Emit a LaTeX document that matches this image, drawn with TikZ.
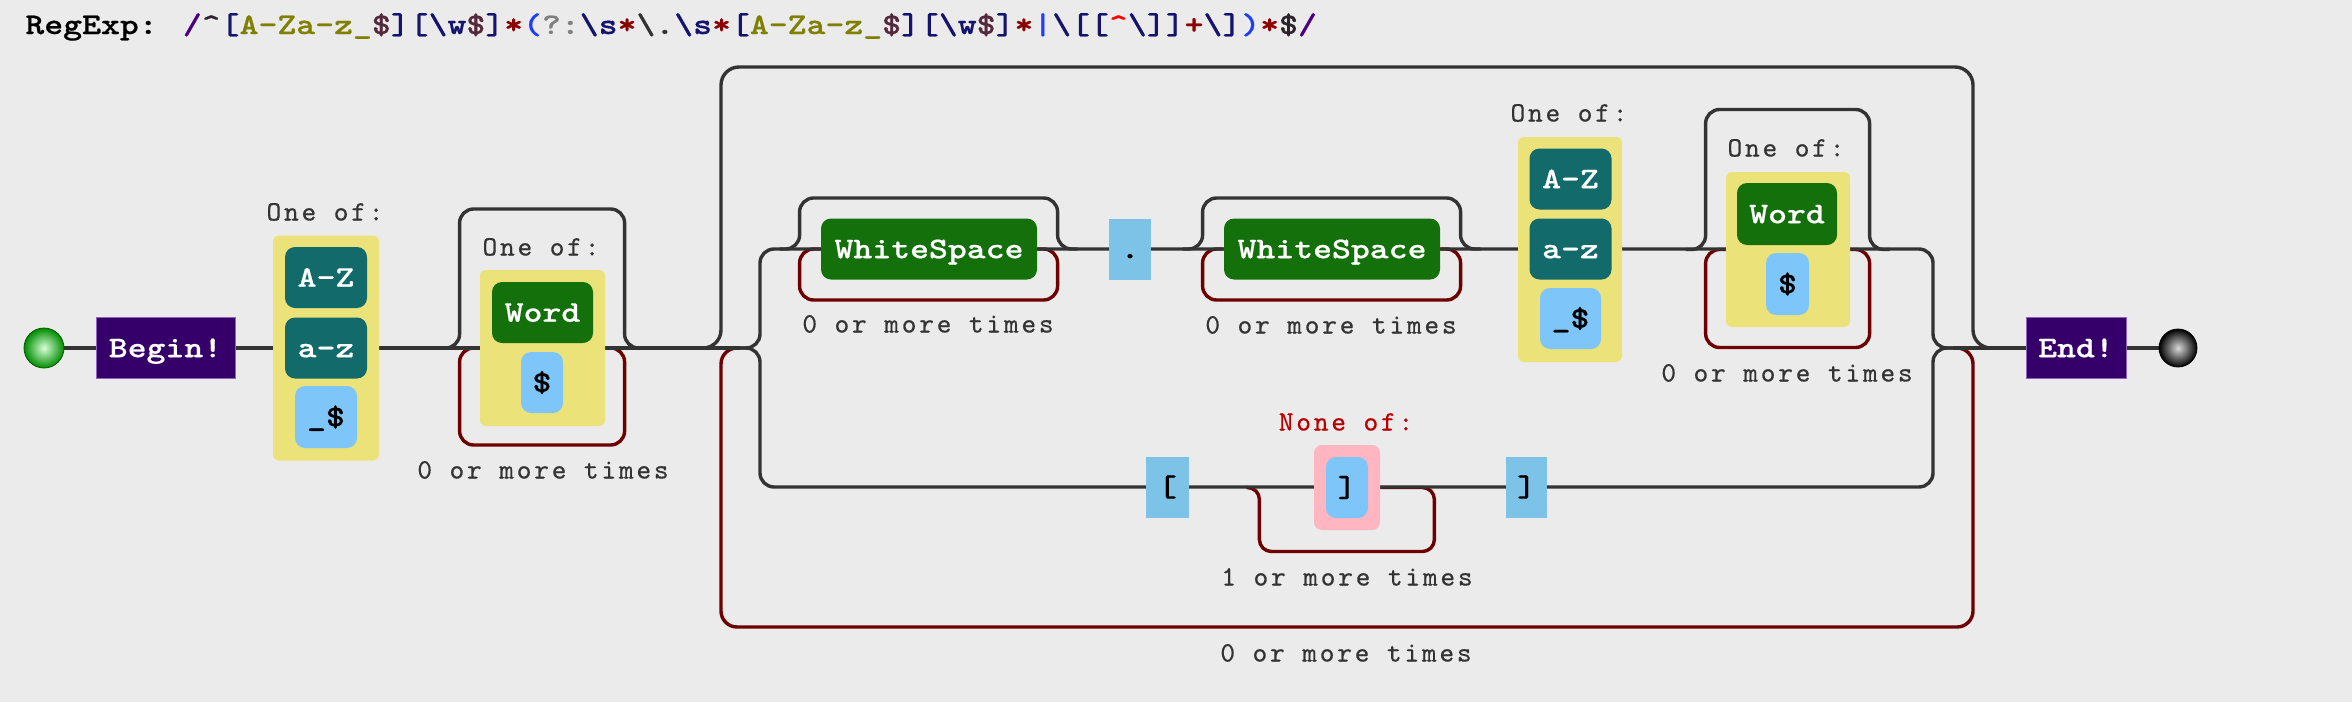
\documentclass[tikz,border=0pt]{standalone}
\usepackage{fontspec}
\usetikzlibrary{calc}
\newfontfamily\boxfont{lmmonolt10-bold}[Extension=.otf, FakeStretch=1.2, FakeBold=0.5]
\newfontfamily\labfont{lmmono10-regular}[Extension=.otf, LetterSpace=10, FakeBold=0.5]
\definecolor{bgc}{RGB}{235,235,235}
\definecolor{railc}{RGB}{51,51,51}
\definecolor{loopc}{RGB}{110,0,0}
\definecolor{indig}{RGB}{54,0,106}
\definecolor{anchb}{RGB}{140,100,190}
\definecolor{tealc}{RGB}{18,106,106}
\definecolor{greenc}{RGB}{20,112,10}
\definecolor{setblue}{RGB}{126,198,250}
\definecolor{chblue}{RGB}{125,195,232}
\definecolor{khak}{RGB}{236,226,122}
\definecolor{pinkc}{RGB}{255,182,193}
\definecolor{noneC}{RGB}{185,0,0}
\definecolor{labc}{RGB}{51,51,51}
\definecolor{delim}{RGB}{75,0,130}
\definecolor{anc}{RGB}{45,35,45}
\definecolor{setc}{RGB}{20,20,110}
\definecolor{olv}{RGB}{128,128,0}
\definecolor{dol}{RGB}{85,40,60}
\definecolor{rep}{RGB}{139,0,0}
\definecolor{grpc}{RGB}{30,60,255}
\definecolor{gry}{RGB}{128,128,128}
\definecolor{esc}{RGB}{51,51,51}
\definecolor{hotred}{RGB}{255,0,0}
\pgfdeclarelayer{back}
\pgfdeclarelayer{rails}
\pgfsetlayers{back,rails,main}
\tikzset{
  rail/.style={draw=railc, line width=1.7pt, rounded corners=7pt},
  loopr/.style={draw=loopc, line width=1.7pt, rounded corners=7pt},
  bx/.style={inner sep=0pt, font=\boxfont\fontsize{15}{18}\selectfont, text height=9.2pt, text depth=0pt, align=center},
  anch/.style={bx, fill=indig, draw=anchb, line width=0.5pt, text=white, minimum height=30.5pt},
  clsb/.style={bx, fill=tealc, rounded corners=5pt, text=white, minimum width=41pt, minimum height=30.5pt},
  wordb/.style={bx, fill=greenc, rounded corners=5pt, text=white, minimum height=30.5pt},
  setch/.style={bx, fill=setblue, rounded corners=5pt, text=black, minimum height=30.5pt},
  chb/.style={bx, fill=chblue, text=black, minimum height=30.5pt},
  grp/.style={fill=khak, rounded corners=3pt, inner sep=0pt},
  lab/.style={font=\labfont\fontsize{14}{16}\selectfont, text=labc, inner sep=0pt, text height=8.5pt, text depth=0pt},
}
\begin{document}
\begin{tikzpicture}[x=0.5pt,y=-0.5pt]
\begin{pgfonlayer}{back}
\fill[bgc] (0,0) rectangle (2352,702);
\end{pgfonlayer}
\useasboundingbox (0,0) rectangle (2352,702);

% title
\node[anchor=base west, inner sep=0pt, font=\boxfont\fontsize{15}{18}\selectfont] (title) at (25,34) {RegExp: \textcolor{delim}{/}\textcolor{anc}{\textasciicircum}\textcolor{setc}{[}\textcolor{olv}{A-Za-z\_}\textcolor{dol}{\$}\textcolor{setc}{][\textbackslash w}\textcolor{dol}{\$}\textcolor{setc}{]}\textcolor{rep}{*}\textcolor{grpc}{(}\textcolor{gry}{?:}\textcolor{setc}{\textbackslash s}\textcolor{rep}{*}\textcolor{esc}{\textbackslash .}\textcolor{setc}{\textbackslash s}\textcolor{rep}{*}\textcolor{setc}{[}\textcolor{olv}{A-Za-z\_}\textcolor{dol}{\$}\textcolor{setc}{][\textbackslash w}\textcolor{dol}{\$}\textcolor{setc}{]}\textcolor{rep}{*}\textcolor{grpc}{|}\textcolor{setc}{\textbackslash [[}\textcolor{hotred}{\textasciicircum}\textcolor{setc}{\textbackslash ]]}\textcolor{rep}{+}\textcolor{setc}{\textbackslash ]}\textcolor{grpc}{)}\textcolor{rep}{*}\textcolor{anc}{\$}\textcolor{delim}{/}};

% start / begin
\node[circle, minimum size=20pt, inner sep=0pt, draw=green!35!black, line width=0.4pt, inner color=green!15!white, outer color=green!55!black] (st) at (44,348) {};
\node[anch, minimum width=69.5pt] (bg) at (165.5,348) {Begin!};

% first class
\node[grp, minimum width=53pt, minimum height=112.5pt] (y1) at (326,348) {};
\node[clsb] (az1u) at (326,277.5) {A-Z};
\node[clsb] (az1l) at (326,348) {a-z};
\node[setch, minimum width=31pt, minimum height=31pt] (us1) at (326,417) {\_\$};
\node[lab] (one1) at (325,212) {One of:};

% second class, 0 or more
\node[grp, minimum width=62.5pt, minimum height=78pt] (y2) at (542.5,348) {};
\node[lab] (one2) at (541,247) {One of:};
\node[wordb, minimum width=50.5pt] (word1) at (542.5,312.5) {Word};
\node[setch, minimum width=21pt] (dol1) at (542,382.5) {\$};
\node[lab] (lab1) at (543,470) {0 or more times};

% upper branch
\node[wordb, minimum width=108pt] (ws1) at (929,249) {WhiteSpace};
\node[lab] (labws1) at (928,324) {0 or more times};
\node[chb, minimum width=21pt] (dot) at (1130,249) {.};
\node[wordb, minimum width=108pt] (ws2) at (1332,249) {WhiteSpace};
\node[lab] (labws2) at (1331,325) {0 or more times};

\node[grp, minimum width=52pt, minimum height=112.5pt] (y3) at (1570,249.5) {};
\node[lab] (one3) at (1569,113) {One of:};
\node[clsb] (az3u) at (1570.5,179) {A-Z};
\node[clsb] (az3l) at (1570.5,249) {a-z};
\node[setch, minimum width=30.5pt] (us3) at (1570.5,318.5) {\_\$};

\node[grp, minimum width=62pt, minimum height=77.5pt] (y4) at (1788,249.5) {};
\node[lab] (one4) at (1786,148) {One of:};
\node[wordb, minimum width=50pt, minimum height=31pt] (word2) at (1787,214) {Word};
\node[setch, minimum width=21.5pt, minimum height=31pt] (dol2) at (1787.5,284) {\$};
\node[lab] (lab4) at (1787,373) {0 or more times};

% lower branch
\node[chb, minimum width=21.5pt] (lbr) at (1167.5,487) {[};
\node[lab, text=noneC] (none) at (1346,422) {None of:};
\node[fill=pinkc, rounded corners=4pt, minimum width=33pt, minimum height=42.5pt, inner sep=0pt] (pk) at (1347,487.5) {};
\node[setch, minimum width=21pt] (rbin) at (1347,487.5) {]};
\node[lab] (lab5) at (1347,577) {1 or more times};
\node[chb, minimum width=20.5pt] (rbr) at (1526.5,487) {]};

\node[lab] (lab6) at (1346,653) {0 or more times};

% end
\node[anch, minimum width=50pt] (en) at (2076,348) {End!};
\node[circle, minimum size=19pt, inner sep=0pt, draw=black, line width=0.4pt, inner color=white!85!black, outer color=black] (endc) at (2178,348) {};

% junction coordinates
\coordinate (sp) at (740,348);
\coordinate (mg) at (1953,348);
\coordinate (oL) at (721,348);
\coordinate (oR) at (1973,348);

\begin{pgfonlayer}{rails}
% repeat-back loops (red)
\draw[loopr] (y2.west) -- ++(-20,0) -- ++(0,97) -- ++(165,0) -- ++(0,-97) -- (y2.east);
\draw[loopr] (ws1.west) -- ++(-21,0) -- ++(0,51) -- ++(258,0) -- ++(0,-51) -- (ws1.east);
\draw[loopr] (ws2.west) -- ++(-21,0) -- ++(0,51) -- ++(258,0) -- ++(0,-51) -- (ws2.east);
\draw[loopr] (y4.west) -- ++(-20,0) -- ++(0,98) -- ++(164,0) -- ++(0,-98) -- (y4.east);
\draw[loopr, rounded corners=6pt] (pk.east) -- ++(54,0) -- ++(0,64) -- ++(-175,0) -- ++(0,-64) -- ++(-13,0);
\draw[loopr, rounded corners=8pt] (sp) -- (oL) -- (721,627) -- (1973,627) -- (oR) -- (mg);

% main rails
\draw[rail] (st) -- (sp);
\draw[rail] (sp) -- (760,348) -- (760,249) -- (1933,249) -- (1933,348) -- (mg);
\draw[rail] (sp) -- (760,348) -- (760,487) -- (1933,487) -- (1933,348) -- (mg);
\draw[rail] (mg) -- (endc);

% skip loops (black)
\draw[rail] ($(y2.west)+(-40,0)$) -- ++(20,0) -- ++(0,-139) -- ++(165,0) -- ++(0,139) -- ++(20,0);
\draw[rail] ($(ws1.west)+(-41,0)$) -- ++(20,0) -- ++(0,-51) -- ++(258,0) -- ++(0,51) -- ++(20,0);
\draw[rail] ($(ws2.west)+(-41,0)$) -- ++(20,0) -- ++(0,-51) -- ++(258,0) -- ++(0,51) -- ++(20,0);
\draw[rail] ($(y4.west)+(-40,0)$) -- ++(20,0) -- ++(0,-140) -- ++(164,0) -- ++(0,140) -- ++(20,0);
\draw[rail, rounded corners=9pt] ($(oL)+(-21,0)$) -- (oL) -- (721,67) -- (1973,67) -- (oR) -- ($(oR)+(22,0)$);
\end{pgfonlayer}
\end{tikzpicture}
\end{document}
